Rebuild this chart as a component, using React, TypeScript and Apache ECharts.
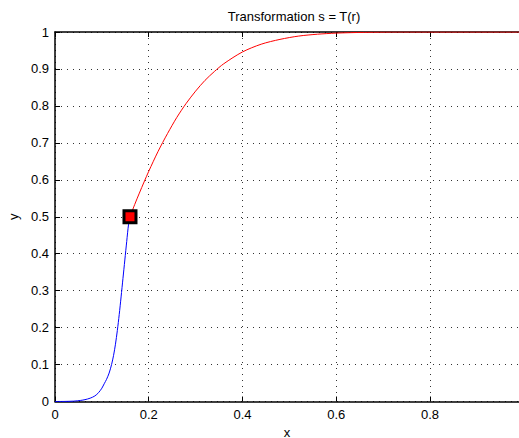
import React, { useEffect, useRef } from "react";
import * as echarts from "echarts";

const titleText = "Transformation s = T(r)";
const xName = "x";
const yName = "y";

// blue segment (r below midpoint)
const blueX = [0, 0.02, 0.04, 0.055, 0.064, 0.075, 0.085, 0.093, 0.1, 0.105, 0.11, 0.1155, 0.1207, 0.125, 0.129, 0.133, 0.137, 0.141, 0.145, 0.149, 0.153, 0.157, 0.16];
const blueY = [0, 0.0002, 0.001, 0.003, 0.005, 0.009, 0.015, 0.024, 0.036, 0.048, 0.06, 0.077, 0.1, 0.125, 0.155, 0.192, 0.235, 0.283, 0.333, 0.383, 0.433, 0.48, 0.5];

// red segment (r above midpoint)
const redX = [0.16, 0.17, 0.18, 0.19, 0.2, 0.22, 0.24, 0.26, 0.28, 0.3, 0.32, 0.34, 0.36, 0.4, 0.44, 0.48, 0.52, 0.56, 0.6, 0.66, 0.74, 0.84, 0.99];
const redY = [0.5, 0.533, 0.564, 0.594, 0.623, 0.677, 0.725, 0.769, 0.807, 0.84, 0.869, 0.893, 0.914, 0.946, 0.967, 0.98, 0.989, 0.994, 0.997, 0.999, 1, 1, 1];

const markerX = [0.16];
const markerY = [0.5];

const FONT = "'Liberation Sans', Arial, Helvetica, sans-serif";

export default function App() {
  const ref = useRef<HTMLDivElement>(null);
  useEffect(() => {
    if (!ref.current) return;
    const chart = echarts.init(ref.current, null, { renderer: "svg" });
    const zip = (xs: number[], ys: number[]) => xs.map((x, i) => [x, ys[i]]);
    const grid = { left: 55, top: 32, right: 0, bottom: 36.5, containLabel: false, outerBoundsMode: "none" };
    const dotted = { show: true, lineStyle: { color: "#333", width: 1, type: [1, 5] as any } };
    chart.setOption({
      animation: false,
      backgroundColor: "#fff",
      textStyle: { fontFamily: FONT },
      title: {
        text: titleText,
        left: 289,
        textAlign: "center",
        top: 5,
        textStyle: { fontFamily: FONT, fontSize: 13, fontWeight: "normal", color: "#000" },
      },
      grid,
      xAxis: [
        {
          type: "value",
          min: 0,
          max: 0.99,
          interval: 0.2,
          name: xName,
          nameLocation: "middle",
          nameGap: 24,
          nameTextStyle: { fontFamily: FONT, fontSize: 13, color: "#000" },
          axisLine: { show: true, onZero: false, lineStyle: { color: "#000", width: 1.5 } },
          axisTick: { show: true, inside: true, length: 5, lineStyle: { color: "#000" } },
          axisLabel: {
            fontFamily: FONT,
            fontSize: 13,
            color: "#000",
            margin: 6,
            showMaxLabel: false,
            formatter: (v: number) => String(Math.round(v * 10) / 10),
          },
          splitLine: dotted,
        },
        {
          type: "value",
          position: "top",
          min: 0,
          max: 0.99,
          interval: 0.2,
          axisLine: { show: true, onZero: false, lineStyle: { color: "#000", width: 1.5 } },
          axisTick: { show: true, inside: true, length: 5, lineStyle: { color: "#000" } },
          axisLabel: { show: false },
          splitLine: { show: false },
        },
      ],
      yAxis: [
        {
          type: "value",
          min: 0,
          max: 1,
          interval: 0.1,
          name: yName,
          nameLocation: "middle",
          nameGap: 32,
          nameTextStyle: { fontFamily: FONT, fontSize: 13, color: "#000" },
          axisLine: { show: true, onZero: false, lineStyle: { color: "#000", width: 1.5 } },
          axisTick: { show: true, inside: true, length: 5, lineStyle: { color: "#000" } },
          axisLabel: {
            fontFamily: FONT,
            fontSize: 13,
            color: "#000",
            margin: 6,
            formatter: (v: number) => String(Math.round(v * 10) / 10),
          },
          splitLine: dotted,
        },
      ],
      series: [
        {
          type: "line",
          data: zip(blueX, blueY),
          showSymbol: false,
          symbol: "none",
          smooth: 0.3,
          lineStyle: { color: "#0000ff", width: 1 },
          z: 3,
        },
        {
          type: "line",
          data: zip(redX, redY),
          showSymbol: false,
          symbol: "none",
          smooth: 0.3,
          lineStyle: { color: "#ff0000", width: 1 },
          z: 3,
        },
        {
          type: "scatter",
          data: zip(markerX, markerY),
          symbol: "rect",
          symbolSize: 12,
          itemStyle: { color: "#ff0000", borderColor: "#000", borderWidth: 3, opacity: 1 },
          z: 5,
        },
      ],
    });
    return () => chart.dispose();
  }, []);
  return (
    <div
      ref={ref}
      style={{ position: "fixed", left: 0, top: 0, width: 519, height: 438, background: "#fff" }}
    />
  );
}
